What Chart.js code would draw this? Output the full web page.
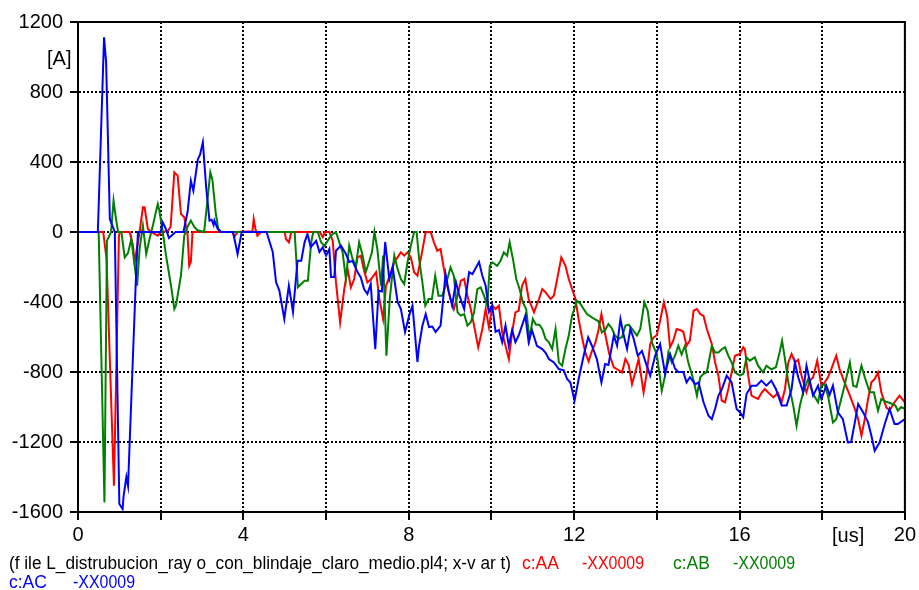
<!DOCTYPE html>
<html>
<head>
<meta charset="utf-8">
<script src="https://cdn.jsdelivr.net/npm/chart.js@4.4.1/dist/chart.umd.min.js"></script>
<style>
  html, body { margin: 0; padding: 0; background: #fff; }
  #wrap { width: 919px; height: 590px; }
</style>
</head>
<body>
<div id="wrap"><canvas id="plot" width="919" height="590"></canvas></div>
<script>
// series data, [t (us), I (A)] ---------------------------------------------
const curveAA = [
  [0,0],[0.61,0],[0.69,-154],[0.87,-1450],[0.99,-20],[1.02,0],[1.25,0],[1.33,-78],[1.37,-173],[1.49,0],
  [1.57,141],[1.61,141],[1.69,17],[1.77,0],[1.93,-21],[2.01,0],[2.17,5],[2.24,29],[2.33,341],[2.41,322],
  [2.49,103],[2.57,84],[2.65,-17],[2.69,-193],[2.73,-170],[2.77,0],[3.74,0],[3.78,-30],[3.86,0],[4.22,5],
  [4.25,74],[4.29,20],[4.34,-21],[4.42,0],[5.00,0],[5.03,-40],[5.10,-59],[5.16,0],[5.85,0],[5.92,-29],
  [5.98,0],[6.08,0],[6.16,-50],[6.24,-288],[6.34,-516],[6.44,-326],[6.52,-211],[6.60,-316],[6.68,-269],[6.76,-145],
  [6.84,-135],[6.92,-221],[7.00,-288],[7.09,-269],[7.21,-230],[7.29,-383],[7.38,-497],[7.45,-307],[7.57,-230],[7.65,-173],
  [7.73,-145],[7.81,-116],[7.89,-135],[7.97,-116],[8.05,-145],[8.13,-230],[8.21,-250],[8.29,-154],[8.35,-78],[8.41,0],
  [8.53,0],[8.61,-59],[8.69,-107],[8.77,-97],[8.85,-211],[8.93,-307],[9.01,-383],[9.09,-440],[9.18,-364],[9.26,-278],
  [9.34,-269],[9.42,-364],[9.50,-440],[9.58,-535],[9.68,-659],[9.78,-554],[9.86,-440],[9.94,-545],[10.02,-421],[10.10,-440],
  [10.18,-421],[10.26,-573],[10.34,-650],[10.42,-726],[10.50,-573],[10.58,-459],[10.66,-450],[10.74,-307],[10.82,-269],[10.90,-383],
  [11.03,-459],[11.15,-383],[11.23,-326],[11.31,-345],[11.43,-383],[11.51,-364],[11.59,-269],[11.69,-145],[11.79,-193],[11.87,-269],
  [11.95,-326],[12.03,-380],[12.11,-500],[12.19,-600],[12.27,-688],[12.35,-740],[12.43,-680],[12.51,-635],[12.59,-560],[12.66,-469],
  [12.75,-583],[12.85,-697],[12.96,-773],[13.08,-790],[13.16,-802],[13.24,-726],[13.32,-760],[13.40,-869],[13.48,-800],[13.56,-726],
  [13.68,-916],[13.76,-800],[13.84,-640],[13.92,-602],[14.00,-590],[14.08,-507],[14.17,-402],[14.25,-480],[14.32,-659],[14.40,-620],
  [14.48,-554],[14.56,-560],[14.64,-570],[14.72,-650],[14.80,-620],[14.89,-450],[14.97,-440],[15.05,-469],[15.13,-480],[15.21,-554],
  [15.33,-640],[15.41,-745],[15.49,-821],[15.57,-964],[15.65,-973],[15.73,-897],[15.81,-802],[15.89,-707],[16.01,-697],[16.09,-659],
  [16.13,-670],[16.21,-821],[16.29,-935],[16.37,-945],[16.45,-954],[16.53,-920],[16.61,-897],[16.69,-916],[16.82,-945],[16.93,-920],
  [17.02,-973],[17.10,-897],[17.18,-745],[17.26,-697],[17.34,-745],[17.42,-730],[17.50,-821],[17.62,-916],[17.70,-850],[17.78,-830],
  [17.88,-735],[17.98,-878],[18.06,-860],[18.14,-830],[18.22,-783],[18.34,-707],[18.42,-783],[18.54,-859],[18.67,-935],[18.79,-1011],
  [18.87,-1069],[18.95,-1164],[19.03,-1069],[19.11,-954],[19.19,-859],[19.27,-840],[19.35,-802],[19.43,-916],[19.55,-1002],[19.63,-1020],
  [19.75,-973],[19.87,-935],[20.00,-973]
];

const curveAB = [
  [0,0],[0.50,0],[0.64,-1545],[0.70,-50],[0.80,0],[0.86,179],[0.92,74],[0.97,0],[1.05,0],[1.13,-145],
  [1.21,-120],[1.29,-40],[1.37,-193],[1.43,-307],[1.49,-97],[1.57,36],[1.65,-126],[1.73,-40],[1.81,36],[1.89,122],
  [1.93,160],[1.97,120],[2.05,0],[2.13,-135],[2.25,-307],[2.33,-440],[2.37,-420],[2.49,-250],[2.57,-21],[2.65,30],
  [2.73,65],[2.81,30],[2.89,10],[3.05,0],[3.13,179],[3.20,341],[3.25,300],[3.33,112],[3.39,20],[3.46,0],
  [5.24,0],[5.32,-316],[5.40,-297],[5.48,-278],[5.56,-278],[5.64,-59],[5.69,0],[5.80,0],[5.88,-59],[5.96,-80],
  [6.04,-50],[6.12,-20],[6.24,0],[6.32,-59],[6.40,-116],[6.48,-269],[6.56,-78],[6.64,-154],[6.72,-193],[6.80,-59],
  [6.88,-130],[6.96,-230],[7.04,-170],[7.11,-116],[7.17,0],[7.24,-97],[7.33,-307],[7.38,-135],[7.46,-707],[7.54,-383],
  [7.65,-135],[7.73,-211],[7.81,-269],[7.89,-297],[7.97,-173],[8.05,-78],[8.13,0],[8.19,0],[8.25,-154],[8.33,-288],
  [8.40,-421],[8.48,-383],[8.56,-383],[8.64,-250],[8.72,-364],[8.81,-364],[8.89,-307],[9.01,-202],[9.09,-250],[9.18,-459],
  [9.26,-478],[9.34,-469],[9.42,-535],[9.50,-516],[9.58,-459],[9.66,-326],[9.74,-316],[9.82,-364],[9.90,-421],[9.96,-193],
  [10.02,-173],[10.14,-193],[10.22,-164],[10.30,-116],[10.38,-135],[10.44,-59],[10.52,-154],[10.60,-269],[10.68,-326],[10.76,-402],
  [10.84,-440],[10.92,-611],[11.00,-497],[11.08,-530],[11.16,-530],[11.23,-554],[11.31,-611],[11.39,-630],[11.47,-669],[11.55,-554],
  [11.63,-745],[11.71,-764],[11.79,-669],[11.87,-592],[11.95,-478],[12.07,-393],[12.15,-410],[12.23,-440],[12.31,-469],[12.43,-488],
  [12.51,-500],[12.59,-510],[12.67,-573],[12.75,-560],[12.83,-526],[12.91,-550],[12.99,-592],[13.08,-610],[13.16,-600],[13.24,-535],
  [13.32,-530],[13.40,-554],[13.52,-592],[13.60,-554],[13.70,-402],[13.78,-450],[13.88,-630],[14.00,-700],[14.12,-907],[14.20,-821],
  [14.28,-688],[14.36,-745],[14.44,-707],[14.52,-650],[14.60,-700],[14.68,-650],[14.76,-745],[14.89,-849],[14.97,-935],[15.05,-830],
  [15.13,-810],[15.21,-800],[15.33,-650],[15.41,-688],[15.49,-688],[15.57,-670],[15.65,-659],[15.73,-707],[15.81,-745],[15.89,-802],
  [16.01,-820],[16.09,-811],[16.17,-716],[16.25,-735],[16.37,-716],[16.45,-764],[16.57,-802],[16.65,-764],[16.77,-785],[16.88,-773],
  [16.97,-688],[17.03,-621],[17.10,-726],[17.18,-859],[17.30,-992],[17.38,-1107],[17.46,-992],[17.54,-916],[17.66,-840],[17.78,-926],
  [17.90,-973],[17.98,-878],[18.06,-870],[18.14,-935],[18.26,-1088],[18.34,-1070],[18.42,-992],[18.54,-878],[18.67,-745],[18.75,-878],
  [18.83,-885],[18.95,-764],[19.03,-830],[19.15,-916],[19.25,-916],[19.35,-1021],[19.43,-954],[19.55,-970],[19.67,-980],[19.77,-992],
  [19.83,-1021],[19.91,-1000],[20.00,-1011]
];

const curveAC = [
  [0,0],[0.48,0],[0.63,1113],[0.68,971],[0.77,74],[0.89,0],[1.00,-1554],[1.08,-1583],[1.10,-1514],[1.17,-1400],
  [1.21,-1451],[1.40,-269],[1.45,0],[2.00,0],[2.05,55],[2.12,20],[2.20,-34],[2.36,0],[2.55,0],[2.65,114],
  [2.73,293],[2.79,236],[2.90,417],[2.95,440],[3.02,513],[3.10,255],[3.18,65],[3.23,70],[3.28,40],[3.30,65],
  [3.38,17],[3.45,0],[3.75,0],[3.86,-126],[3.96,0],[4.56,0],[4.71,-114],[4.79,-286],[4.87,-335],[4.99,-497],
  [5.10,-307],[5.20,-457],[5.31,-164],[5.40,-164],[5.48,-59],[5.55,-11],[5.63,-86],[5.76,-50],[5.84,-114],[5.92,-88],
  [6.00,-135],[6.08,-97],[6.12,-257],[6.20,-257],[6.24,-107],[6.36,-78],[6.48,-126],[6.56,-171],[6.64,-165],[6.76,-229],
  [6.84,-260],[6.92,-326],[7.00,-354],[7.08,-297],[7.19,-669],[7.27,-335],[7.35,-340],[7.43,-57],[7.53,-269],[7.61,-200],
  [7.73,-400],[7.81,-440],[7.91,-571],[8.01,-478],[8.09,-421],[8.21,-743],[8.25,-650],[8.33,-535],[8.41,-469],[8.49,-543],
  [8.57,-540],[8.65,-571],[8.77,-535],[8.89,-240],[8.97,-343],[9.05,-421],[9.14,-286],[9.22,-360],[9.34,-440],[9.46,-229],
  [9.54,-240],[9.70,-171],[9.78,-250],[9.86,-307],[9.94,-457],[10.02,-420],[10.10,-571],[10.18,-560],[10.26,-629],[10.34,-535],
  [10.42,-650],[10.50,-560],[10.58,-629],[10.66,-590],[10.82,-478],[10.90,-629],[10.98,-560],[11.10,-650],[11.23,-669],[11.31,-690],
  [11.39,-726],[11.51,-745],[11.63,-783],[11.75,-790],[11.83,-840],[11.91,-860],[12.01,-964],[12.11,-840],[12.23,-707],[12.34,-602],
  [12.43,-650],[12.55,-726],[12.66,-859],[12.75,-754],[12.83,-760],[12.96,-592],[13.04,-650],[13.12,-497],[13.20,-592],[13.28,-669],
  [13.36,-554],[13.44,-610],[13.54,-707],[13.64,-680],[13.73,-745],[13.84,-821],[13.96,-707],[14.08,-640],[14.20,-811],[14.32,-697],
  [14.44,-780],[14.52,-800],[14.64,-800],[14.72,-859],[14.80,-830],[14.93,-870],[15.01,-860],[15.13,-973],[15.25,-1050],[15.33,-1069],
  [15.41,-1010],[15.49,-935],[15.57,-900],[15.69,-821],[15.81,-860],[15.93,-1011],[16.01,-1030],[16.09,-1059],[16.17,-926],[16.29,-878],
  [16.41,-878],[16.53,-849],[16.65,-878],[16.77,-849],[16.88,-897],[17.02,-992],[17.14,-992],[17.26,-897],[17.34,-745],[17.42,-830],
  [17.54,-916],[17.62,-764],[17.70,-850],[17.78,-935],[17.90,-878],[17.98,-954],[18.10,-878],[18.18,-930],[18.26,-878],[18.38,-1031],
  [18.50,-1069],[18.62,-1202],[18.70,-1200],[18.79,-1088],[18.87,-983],[18.99,-1030],[19.11,-1088],[19.19,-1164],[19.27,-1250],[19.39,-1202],
  [19.51,-1100],[19.63,-1011],[19.75,-1097],[19.83,-1097],[20.00,-1069]
];

// axes / labels --------------------------------------------------------------
const xRange = [0, 20];
const yRange = [-1600, 1200];
const xLabelled = [0, 4, 8, 12, 16, 20];
const footerText = "(f ile L_distrubucion_ray o_con_blindaje_claro_medio.pl4; x-v ar t)";
const legendItems = [
  { name: "c:AA", node: "-XX0009", color: "#ff0000" },
  { name: "c:AB", node: "-XX0009", color: "#008000" },
  { name: "c:AC", node: "-XX0009", color: "#0000ff" },
];

const toPoints = (arr) => arr.map((p) => ({ x: p[0], y: p[1] }));
const FONT = "'Liberation Sans', Arial, sans-serif";

// frame, unit labels and file legend
const atpPlugin = {
  id: "atpExtras",
  afterDraw(chart) {
    const c = chart.ctx;
    const a = chart.chartArea;
    c.save();
    c.strokeStyle = "#000";
    c.lineWidth = 2;
    c.strokeRect(a.left, a.top, a.right - a.left, a.bottom - a.top);

    c.fillStyle = "#000";
    c.font = "20px " + FONT;
    c.textBaseline = "alphabetic";
    c.textAlign = "left";
    c.fillText("[A]", 47, 65);
    c.fillText("[us]", 832, 542);

    c.font = "17.5px " + FONT;
    c.fillText(footerText, 9, 569, 502);
    const pos = [
      [522, 582, 569],
      [673, 733, 569],
      [9, 73, 588],
    ];
    legendItems.forEach((it, i) => {
      c.fillStyle = it.color;
      c.fillText(it.name, pos[i][0], pos[i][2], 38);
      c.fillText(it.node, pos[i][1], pos[i][2], 62);
    });
    c.restore();
  },
};

const ctx = document.getElementById("plot").getContext("2d");
const chart = new Chart(ctx, {
  type: "line",
  data: {
    datasets: [
      { label: "c:AC -XX0009", data: toPoints(curveAC), borderColor: "#0000ff" },
      { label: "c:AB -XX0009", data: toPoints(curveAB), borderColor: "#008000" },
      { label: "c:AA -XX0009", data: toPoints(curveAA), borderColor: "#ff0000" },
    ],
  },
  options: {
    responsive: false,
    animation: false,
    layout: { padding: { left: 0, right: 12, top: 22, bottom: 38 } },
    elements: {
      point: { radius: 0 },
      line: { borderWidth: 2, tension: 0 },
    },
    plugins: { legend: { display: false }, tooltip: { enabled: false } },
    scales: {
      x: {
        type: "linear",
        min: xRange[0],
        max: xRange[1],
        afterFit: (s) => { s.height = 40; },
        ticks: {
          stepSize: 2,
          color: "#000",
          padding: 3,
          maxRotation: 0,
          autoSkip: false,
          font: { family: FONT, size: 20 },
          callback: (v) => (xLabelled.includes(v) ? String(v) : ""),
        },
        grid: {
          color: "#000",
          lineWidth: 2,
          tickLength: 8,
          tickColor: "#000",
          tickWidth: 2,
          tickBorderDash: [],
        },
        border: { color: "#000", width: 2, dash: [2, 2] },
      },
      y: {
        min: yRange[0],
        max: yRange[1],
        afterFit: (s) => { s.width = 78; },
        ticks: {
          stepSize: 400,
          color: "#000",
          padding: 7,
          font: { family: FONT, size: 20 },
          callback: (v) => String(v),
        },
        grid: {
          color: "#000",
          lineWidth: 2,
          tickLength: 8,
          tickColor: "#000",
          tickWidth: 2,
          tickBorderDash: [],
        },
        border: { color: "#000", width: 2, dash: [2, 2] },
      },
    },
  },
  plugins: [atpPlugin],
});
</script>
</body>
</html>
